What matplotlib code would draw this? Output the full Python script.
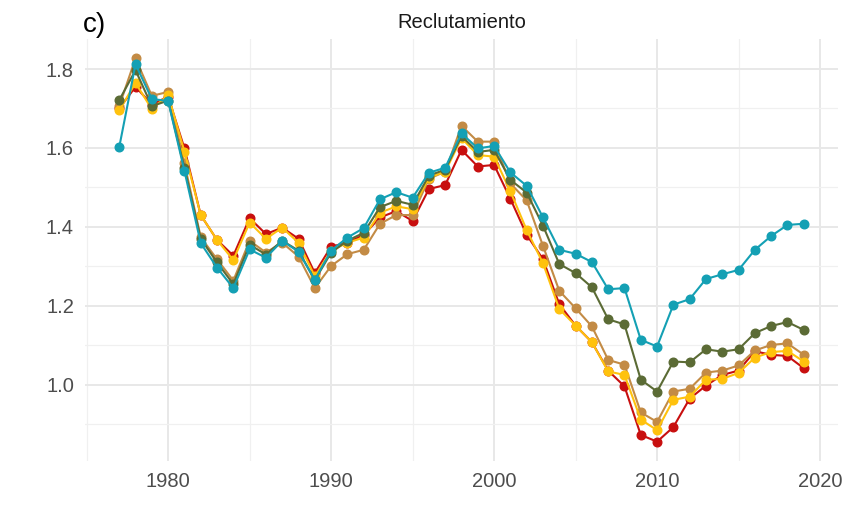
import numpy as np
import matplotlib
matplotlib.use("Agg")
import matplotlib.pyplot as plt
from matplotlib.ticker import MultipleLocator

plt.rcParams['font.family'] = ['Liberation Sans', 'DejaVu Sans']

years = list(range(1977, 2020))

red = [1.700, 1.755, 1.710, 1.730, 1.599, 1.430, 1.367, 1.327, 1.422, 1.382,
       1.398, 1.370, 1.283, 1.350, 1.360, 1.380, 1.424, 1.440, 1.415, 1.496,
       1.506, 1.595, 1.553, 1.557, 1.471, 1.380, 1.318, 1.204, 1.150, 1.108,
       1.036, 0.996, 0.873, 0.856, 0.893, 0.965, 0.998, 1.025, 1.036, 1.085,
       1.076, 1.073, 1.042]
yellow = [1.695, 1.765, 1.698, 1.734, 1.591, 1.430, 1.367, 1.316, 1.411, 1.370,
          1.398, 1.360, 1.275, 1.340, 1.360, 1.373, 1.436, 1.452, 1.445, 1.525,
          1.540, 1.625, 1.582, 1.578, 1.490, 1.392, 1.308, 1.192, 1.150, 1.108,
          1.034, 1.025, 0.912, 0.885, 0.962, 0.970, 1.013, 1.015, 1.030, 1.069,
          1.083, 1.086, 1.059]
tan = [1.706, 1.827, 1.732, 1.742, 1.561, 1.374, 1.318, 1.264, 1.365, 1.335,
       1.360, 1.325, 1.245, 1.301, 1.331, 1.342, 1.408, 1.430, 1.430, 1.522,
       1.540, 1.656, 1.616, 1.616, 1.510, 1.467, 1.352, 1.238, 1.194, 1.148,
       1.063, 1.051, 0.930, 0.906, 0.983, 0.990, 1.031, 1.036, 1.049, 1.087,
       1.101, 1.105, 1.076]
olive = [1.721, 1.797, 1.706, 1.720, 1.550, 1.370, 1.310, 1.255, 1.355, 1.330,
         1.365, 1.340, 1.265, 1.335, 1.365, 1.385, 1.450, 1.466, 1.456, 1.530,
         1.545, 1.630, 1.590, 1.595, 1.519, 1.487, 1.403, 1.306, 1.283, 1.247,
         1.166, 1.153, 1.013, 0.983, 1.059, 1.057, 1.090, 1.084, 1.090, 1.131,
         1.149, 1.159, 1.139]
teal = [1.602, 1.812, 1.724, 1.719, 1.542, 1.359, 1.297, 1.245, 1.343, 1.322,
        1.365, 1.337, 1.266, 1.340, 1.373, 1.397, 1.470, 1.488, 1.474, 1.537,
        1.550, 1.637, 1.599, 1.605, 1.538, 1.504, 1.424, 1.342, 1.332, 1.311,
        1.242, 1.245, 1.114, 1.097, 1.203, 1.217, 1.268, 1.280, 1.291, 1.342,
        1.377, 1.405, 1.408]

series = [(red, "#C80F0F"), (tan, "#C38B45"), (yellow, "#FFC20E"),
          (olive, "#5B6B35"), (teal, "#14A0B4")]

fig = plt.figure(figsize=(8.44, 5.32), dpi=100)
ax = fig.add_axes([85 / 844, 71 / 532, 753 / 844, 422 / 532])

for vals, col in series:
    ax.plot(years, vals, color=col, lw=1.5, marker='o', ms=6.2, zorder=3)

ax.set_xlim(1974.9, 2021.1)
ax.set_ylim(0.807, 1.876)
ax.xaxis.set_major_locator(MultipleLocator(10))
ax.xaxis.set_minor_locator(MultipleLocator(5))
ax.yaxis.set_major_locator(MultipleLocator(0.2))
ax.yaxis.set_minor_locator(MultipleLocator(0.1))
ax.yaxis.set_major_formatter(plt.FuncFormatter(lambda v, p: f"{v:.1f}"))

ax.grid(which='major', color='#E8E8E8', lw=1.4)
ax.grid(which='minor', color='#F0F0F0', lw=0.9)
ax.set_axisbelow(True)
for s in ax.spines.values():
    s.set_visible(False)
ax.tick_params(which='both', length=0, labelsize=14.5, colors='#4D4D4D', pad=8)

ax.set_title("Reclutamiento", fontsize=14.5, color='#1A1A1A', pad=8)
fig.text(83 / 844, 1 - 25 / 532, "c)", fontsize=20, va='center', ha='left')

fig.savefig("out.png", dpi=100)
